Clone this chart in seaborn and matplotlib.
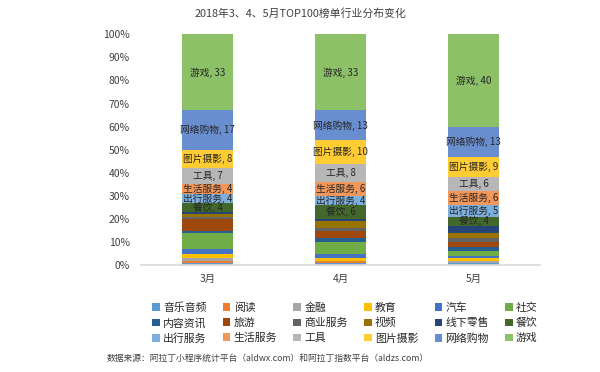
import numpy as np
import pandas as pd
import matplotlib
matplotlib.use("Agg")
import matplotlib.pyplot as plt
import seaborn as sns
from matplotlib.patches import Patch

months = ["3月", "4月", "5月"]
categories = ["音乐音频", "阅读", "金融", "教育", "汽车", "社交",
              "内容资讯", "旅游", "商业服务", "视频", "线下零售", "餐饮",
              "出行服务", "生活服务", "工具", "图片摄影", "网络购物", "游戏"]
vals_mar = [1, 1, 1, 2, 2, 7, 1, 5, 1, 1, 1, 4, 4, 4, 7, 8, 17, 33]
vals_apr = [1, 1, 0, 1, 2, 5, 2, 3, 1, 3, 1, 6, 4, 6, 8, 10, 13, 33]
vals_may = [1, 0, 1, 1, 1, 2, 2, 2, 2, 2, 3, 4, 5, 6, 6, 9, 13, 40]
labeled = ["餐饮", "出行服务", "生活服务", "工具", "图片摄影", "网络购物", "游戏"]
yticks = [0, 10, 20, 30, 40, 50, 60, 70, 80, 90, 100]

colors = ["#5B9BD5", "#ED7D31", "#A5A5A5", "#FFC000", "#4472C4", "#70AD47",
          "#255E91", "#9E480E", "#636363", "#997300", "#264478", "#43682B",
          "#7CAFDD", "#F1975A", "#B7B7B7", "#FFCD33", "#698ED0", "#8CC168"]

sns.set_theme(style="white")
plt.rcParams['font.family'] = ['Noto Sans CJK SC', 'DejaVu Sans']

df = pd.DataFrame({"月": np.repeat(months, len(categories)),
                   "行业": categories * 3,
                   "值": vals_mar + vals_apr + vals_may})
df["行业"] = pd.Categorical(df["行业"], categories=categories, ordered=True)
df = df.sort_values(["月", "行业"])
df["累计"] = df.groupby("月")["值"].cumsum()

fig = plt.figure(figsize=(6, 3.72), dpi=100)
ax = fig.add_axes([0.235, 0.287, 0.665, 0.621])

for i in range(len(categories) - 1, -1, -1):
    sub = df[df["行业"] == categories[i]]
    sns.barplot(data=sub, x="月", y="累计", order=months, color=colors[i],
                width=0.38, ax=ax, saturation=1, errorbar=None, linewidth=0,
                edgecolor="none")

for _, r in df.iterrows():
    if r["行业"] in labeled:
        xi = months.index(r["月"])
        ax.text(xi, r["累计"] - r["值"] / 2, f'{r["行业"]}, {r["值"]}',
                ha="center", va="center", fontsize=7.0, color="#262626")

ax.set_ylim(0, 100)
ax.set_xlim(-0.5, 2.5)
ax.set_yticks(yticks)
ax.set_yticklabels([f"{t}%" for t in yticks], fontsize=7.5, color="#404040")
ax.tick_params(axis="x", labelsize=7.5, colors="#404040", length=0, pad=6)
ax.tick_params(axis="y", length=0, pad=8)
ax.set_xlabel("")
ax.set_ylabel("")
for s in ["top", "right", "left"]:
    ax.spines[s].set_visible(False)
ax.spines["bottom"].set_color("#D9D9D9")

fig.text(0.5, 0.963, "2018年3、4、5月TOP100榜单行业分布变化", ha="center",
         va="center", fontsize=7.8, color="#404040")

handles = [Patch(facecolor=c, edgecolor="none") for c in colors]
order = [r * 6 + c for c in range(6) for r in range(3)]
fig.legend([handles[k] for k in order], [categories[k] for k in order],
           ncol=6, loc="center", bbox_to_anchor=(0.575, 0.131), frameon=False,
           fontsize=7.8, handlelength=0.7, handleheight=0.7, handletextpad=0.3,
           columnspacing=1.5, labelspacing=0.45)

fig.text(0.178, 0.037, "数据来源：阿拉丁小程序统计平台（aldwx.com）和阿拉丁指数平台（aldzs.com）",
         ha="left", va="center", fontsize=6.3, color="#404040")

fig.savefig("out.png", dpi=100, facecolor="white")
